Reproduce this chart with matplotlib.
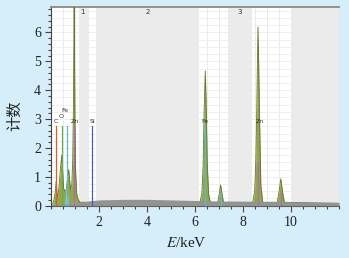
import matplotlib
matplotlib.use("Agg")
import matplotlib.pyplot as plt
from matplotlib.ticker import MultipleLocator

# continuum (gray band under the spectrum)
bg_kev = [0.0, 0.5, 1.0, 1.3, 1.6, 2.0, 3.0, 4.0, 5.0, 6.0, 7.0, 8.0, 9.0, 10.0, 11.0, 12.0]
bg_counts = [0.04, 0.06, 0.08, 0.12, 0.17, 0.20, 0.22, 0.22, 0.20, 0.18, 0.16, 0.15, 0.14, 0.13, 0.12, 0.12]

# spectrum outline
spec_kev = [0.05, 0.12, 0.17, 0.20, 0.23, 0.27, 0.32, 0.38, 0.43, 0.47, 0.51, 0.56, 0.62,
            0.68, 0.72, 0.76, 0.80, 0.85, 0.89, 0.92, 0.95, 0.98, 1.01, 1.05, 1.10, 1.18,
            6.20, 6.28, 6.33, 6.37, 6.42, 6.46, 6.50, 6.56, 6.63,
            6.94, 7.00, 7.06, 7.12, 7.18,
            8.40, 8.48, 8.53, 8.57, 8.60, 8.62, 8.65, 8.69, 8.74, 8.82,
            9.42, 9.50, 9.57, 9.64, 9.72, 12.0]
spec_counts = [0.05, 0.25, 0.55, 0.85, 0.45, 0.30, 0.70, 1.30, 1.75, 1.20, 0.60, 0.50, 0.55,
               1.00, 1.25, 0.90, 0.55, 0.70, 1.60, 3.50, 7.50, 3.00, 1.20, 0.45, 0.25, 0.12,
               0.12, 0.45, 1.40, 3.20, 4.67, 3.40, 1.50, 0.40, 0.12,
               0.12, 0.40, 0.72, 0.40, 0.12,
               0.12, 0.50, 1.60, 3.40, 5.20, 6.19, 4.80, 2.80, 0.70, 0.12,
               0.12, 0.50, 0.93, 0.50, 0.12, 0.08]

# small coloured element fills at low energy
fel_kev = [0.55, 0.60, 0.64, 0.68, 0.72]
fel_counts = [0.05, 0.45, 0.80, 0.40, 0.05]
znl_kev = [0.85, 0.92, 0.95, 0.98, 1.05]
znl_counts = [0.05, 0.20, 0.30, 0.20, 0.05]

# element marker lines
marker_kev = [0.20, 0.46, 0.64, 0.95, 1.71, 6.42, 7.06, 8.62, 9.57]
marker_top = [2.75, 2.75, 2.75, 2.75, 2.75, 2.75, 0.45, 1.5, 0.45]
marker_color = ["#e8562a", "#72a84a", "#57bccb", "#a86cb0", "#4a5cc0",
                "#57bccb", "#57bccb", "#a86cb0", "#a86cb0"]
label_text = ["C", "O", "Fe", "Zn", "Si", "Fe", "Zn"]
label_kev = [0.20, 0.42, 0.55, 0.98, 1.71, 6.42, 8.68]
label_counts = [2.9, 3.1, 3.3, 2.9, 2.9, 2.9, 2.9]

# shaded regions and their numbers
shade_regions = [(1.15, 1.57), (1.86, 6.15), (7.36, 8.36), (10.0, 12.0)]
region_text = ["1", "2", "3"]
region_kev = [1.28, 4.0, 7.84]

BG = "#d5eefa"
plt.rcParams["mathtext.fontset"] = "stix"

fig = plt.figure(figsize=(3.49, 2.58), dpi=100, facecolor=BG)
ax = fig.add_axes([51.4 / 349, 1 - 205.7 / 258, (339 - 51.4) / 349, (205.7 - 6.5) / 258])
ax.set_facecolor("white")

for a, b in shade_regions:
    ax.axvspan(a, b, color="#ebebeb", lw=0, zorder=1)

# faint grid, hidden under the shaded spans
for i in range(1, 24):
    ax.axvline(i * 0.5, color="#e6e6e6", lw=0.6, zorder=0.5)
for i in range(1, 28):
    ax.axhline(i * 0.25, color="#ececec", lw=0.6, zorder=0.5)

ax.fill_between(spec_kev, 0, spec_counts, color="#93a64e", lw=0, zorder=3)
ax.plot(spec_kev, spec_counts, color="#62762a", lw=0.6, zorder=3.2)
ax.fill_between(fel_kev, 0, fel_counts, color="#7fd0dc", lw=0, zorder=3.4)
ax.fill_between(znl_kev, 0, znl_counts, color="#c08ac8", lw=0, zorder=3.4)
ax.fill_between(bg_kev, 0, bg_counts, color="#939393", lw=0, zorder=4)

for x, top, c in zip(marker_kev, marker_top, marker_color):
    ax.plot([x, x], [0, top], color=c, lw=0.9, zorder=5)
for t, x, y in zip(label_text, label_kev, label_counts):
    ax.text(x, y, t, fontsize=4.5, color="#333333", ha="center", va="center", zorder=6)
for t, x in zip(region_text, region_kev):
    ax.text(x, 6.72, t, fontsize=5, color="#333333", ha="center", va="center", zorder=6)

ax.set_xlim(0, 12)
ax.set_ylim(0, 6.9)
ax.set_xticks([2, 4, 6, 8, 10])
ax.xaxis.set_minor_locator(MultipleLocator(0.5))
ax.set_yticks(range(0, 7))
ax.yaxis.set_minor_locator(MultipleLocator(0.2))
ax.tick_params(which="both", direction="out", color="#444444", width=0.8,
               labelsize=10, labelcolor="#222222")
ax.tick_params(which="major", length=4)
ax.tick_params(which="minor", length=2.2)
for lab in ax.get_xticklabels() + ax.get_yticklabels():
    lab.set_family("Liberation Serif")

ax.spines["right"].set_visible(False)
ax.spines["top"].set_color("#8a8a8a")
ax.spines["top"].set_linewidth(1.3)
ax.spines["left"].set_color("#444444")
ax.spines["bottom"].set_color("#444444")

ax.set_ylabel("计数", family=["Noto Sans CJK SC", "DejaVu Sans"], fontsize=11, color="#222222")
ax.yaxis.set_label_coords(-0.10, 0.45)
ax.set_xlabel(r"$E$/keV", family="Liberation Serif", fontsize=11, color="#222222")
ax.xaxis.set_label_coords(0.47, -0.15)

fig.savefig("out.png", dpi=100, facecolor=BG)
